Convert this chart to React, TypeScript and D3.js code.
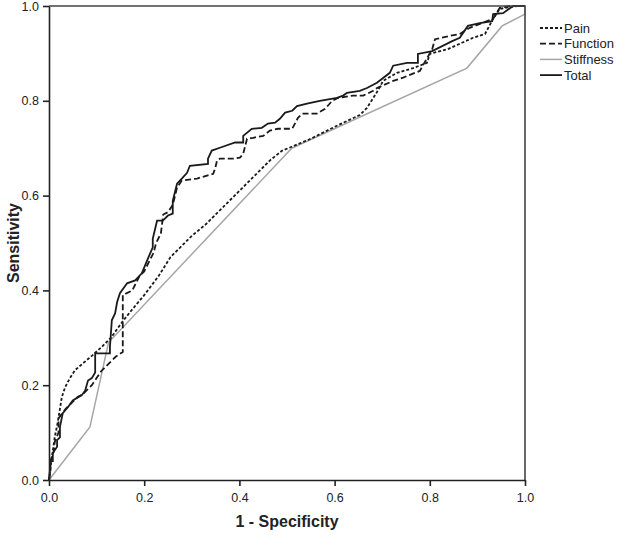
import React, { useEffect, useRef } from "react";
import * as d3 from "d3";

// ROC points: [1 - specificity, sensitivity]
const painPts: [number, number][] = [
  [0, 0], [0.005, 0.04], [0.012, 0.09], [0.018, 0.12], [0.023, 0.15], [0.027, 0.175],
  [0.034, 0.196], [0.044, 0.215], [0.055, 0.232], [0.07, 0.245], [0.09, 0.262],
  [0.11, 0.28], [0.13, 0.3], [0.155, 0.335], [0.175, 0.36], [0.2, 0.39], [0.23, 0.43],
  [0.255, 0.47], [0.28, 0.495], [0.3, 0.515], [0.33, 0.54], [0.36, 0.57], [0.39, 0.6],
  [0.42, 0.63], [0.44, 0.65], [0.465, 0.675], [0.49, 0.695], [0.51, 0.703], [0.55, 0.72],
  [0.6, 0.745], [0.653, 0.77], [0.668, 0.785], [0.69, 0.82], [0.702, 0.842], [0.731, 0.859],
  [0.765, 0.869], [0.794, 0.88], [0.8, 0.899], [0.838, 0.909], [0.891, 0.933],
  [0.916, 0.941], [0.933, 0.973], [0.947, 0.994], [0.983, 1.0], [1, 1],
];

const functionPts: [number, number][] = [
  [0, 0], [0.003, 0.02], [0.003, 0.04], [0.01, 0.06], [0.012, 0.08], [0.02, 0.1],
  [0.02, 0.13], [0.035, 0.15], [0.045, 0.16], [0.06, 0.175], [0.07, 0.18], [0.08, 0.19],
  [0.09, 0.2], [0.1, 0.215], [0.11, 0.23], [0.125, 0.245], [0.14, 0.26], [0.155, 0.27],
  [0.155, 0.39], [0.175, 0.4], [0.19, 0.43], [0.2, 0.44], [0.21, 0.46], [0.22, 0.48],
  [0.225, 0.5], [0.235, 0.52], [0.24, 0.56], [0.25, 0.565], [0.26, 0.58], [0.269, 0.617],
  [0.279, 0.632], [0.311, 0.636], [0.332, 0.642], [0.345, 0.646], [0.349, 0.657],
  [0.353, 0.674], [0.359, 0.678], [0.387, 0.678], [0.401, 0.68], [0.408, 0.688],
  [0.416, 0.72], [0.429, 0.722], [0.45, 0.726], [0.464, 0.737], [0.481, 0.741],
  [0.511, 0.741], [0.523, 0.764], [0.532, 0.773], [0.563, 0.773], [0.58, 0.783],
  [0.595, 0.8], [0.607, 0.806], [0.639, 0.811], [0.66, 0.811], [0.681, 0.821],
  [0.689, 0.827], [0.723, 0.842], [0.744, 0.849], [0.779, 0.863], [0.805, 0.909],
  [0.811, 0.93], [0.842, 0.937], [0.863, 0.941], [0.884, 0.954], [0.933, 0.973],
  [0.947, 0.996], [0.968, 1.0], [1, 1],
];

const stiffnessPts: [number, number][] = [
  [0, 0], [0.086, 0.112], [0.125, 0.29], [0.51, 0.7], [0.878, 0.869], [0.952, 0.958],
  [1, 0.983], [1, 1],
];

const totalPts: [number, number][] = [
  [0, 0], [0.002, 0.021], [0.002, 0.04], [0.008, 0.04], [0.008, 0.057], [0.017, 0.07],
  [0.017, 0.084], [0.023, 0.09], [0.023, 0.112], [0.029, 0.141], [0.04, 0.154],
  [0.05, 0.168], [0.069, 0.179], [0.076, 0.189], [0.082, 0.21], [0.09, 0.215],
  [0.097, 0.227], [0.097, 0.267], [0.128, 0.267], [0.128, 0.28], [0.132, 0.337],
  [0.139, 0.352], [0.143, 0.375], [0.149, 0.394], [0.164, 0.415], [0.181, 0.421],
  [0.195, 0.436], [0.206, 0.463], [0.218, 0.491], [0.218, 0.509], [0.227, 0.547],
  [0.239, 0.547], [0.25, 0.558], [0.26, 0.562], [0.26, 0.589], [0.269, 0.625],
  [0.279, 0.636], [0.29, 0.648], [0.296, 0.663], [0.334, 0.667], [0.334, 0.678],
  [0.342, 0.695], [0.359, 0.701], [0.391, 0.712], [0.408, 0.712], [0.408, 0.726],
  [0.426, 0.741], [0.447, 0.743], [0.46, 0.752], [0.475, 0.754], [0.485, 0.762],
  [0.496, 0.775], [0.511, 0.779], [0.521, 0.789], [0.542, 0.794], [0.569, 0.8],
  [0.605, 0.806], [0.618, 0.811], [0.626, 0.817], [0.653, 0.821], [0.668, 0.827],
  [0.689, 0.838], [0.716, 0.859], [0.723, 0.874], [0.752, 0.88], [0.775, 0.88],
  [0.775, 0.899], [0.805, 0.905], [0.847, 0.926], [0.863, 0.933], [0.88, 0.958],
  [0.905, 0.964], [0.931, 0.968], [0.933, 0.983], [0.954, 0.985], [0.975, 1.0], [1, 1],
];

const seriesNames = ["Pain", "Function", "Stiffness", "Total"];
const ticks = [0, 0.2, 0.4, 0.6, 0.8, 1.0];

const styles: Record<string, { color: string; width: number; dash: string | null }> = {
  Pain: { color: "#1a1a1a", width: 1.8, dash: "3,2" },
  Function: { color: "#1a1a1a", width: 1.8, dash: "6,3" },
  Stiffness: { color: "#a6a6a6", width: 1.5, dash: null },
  Total: { color: "#1a1a1a", width: 1.8, dash: null },
};

const App = () => {
  const svgRef = useRef<SVGSVGElement | null>(null);

  useEffect(() => {
    document.body.style.margin = "0";
    const width = 620;
    const height = 535;
    const left = 49, right = 525, top = 6, bottom = 480;
    const font = "'Liberation Sans', Arial, sans-serif";

    const x = d3.scaleLinear().domain([0, 1]).range([left, right]);
    const y = d3.scaleLinear().domain([0, 1]).range([bottom, top]);

    const svg = d3.select(svgRef.current).attr("width", width).attr("height", height);
    svg.selectAll("*").remove();
    svg.append("rect").attr("width", width).attr("height", height).attr("fill", "#fff");

    const data: Record<string, [number, number][]> = {
      Pain: painPts,
      Function: functionPts,
      Stiffness: stiffnessPts,
      Total: totalPts,
    };

    const line = d3.line<[number, number]>().x((d) => x(d[0])).y((d) => y(d[1]));

    // stiffness first so the black lines sit on top
    ["Stiffness", "Pain", "Function", "Total"].forEach((name) => {
      const st = styles[name];
      svg.append("path")
        .datum(data[name])
        .attr("d", line)
        .attr("fill", "none")
        .attr("stroke", st.color)
        .attr("stroke-width", st.width)
        .attr("stroke-dasharray", st.dash)
        .attr("stroke-linejoin", "miter");
    });

    // frame (top, right)
    svg.append("path")
      .attr("d", `M${left},${top}H${right}V${bottom}`)
      .attr("fill", "none")
      .attr("stroke", "#444")
      .attr("stroke-width", 1.6);

    const xAxis = svg.append("g")
      .attr("transform", `translate(0,${bottom})`)
      .call(d3.axisBottom(x).tickValues(ticks).tickFormat(d3.format(".1f")).tickSize(6).tickSizeOuter(0));
    const yAxis = svg.append("g")
      .attr("transform", `translate(${left},0)`)
      .call(d3.axisLeft(y).tickValues(ticks).tickFormat(d3.format(".1f")).tickSize(6).tickSizeOuter(0));

    [xAxis, yAxis].forEach((g) => {
      g.select(".domain").attr("stroke", "#222").attr("stroke-width", 1.6);
      g.selectAll(".tick line").attr("stroke", "#222").attr("stroke-width", 1.6);
      g.selectAll(".tick text")
        .attr("font-family", font)
        .attr("font-size", 12.5)
        .attr("fill", "#222");
    });
    xAxis.selectAll(".tick text").attr("dy", "1.05em");
    yAxis.selectAll(".tick text").attr("x", -10);

    svg.append("text")
      .attr("transform", `translate(19,${(top + bottom) / 2}) rotate(-90)`)
      .attr("text-anchor", "middle")
      .attr("font-family", font)
      .attr("font-weight", "bold")
      .attr("font-size", 16)
      .attr("fill", "#222")
      .text("Sensitivity");

    svg.append("text")
      .attr("x", (left + right) / 2)
      .attr("y", 527)
      .attr("text-anchor", "middle")
      .attr("font-family", font)
      .attr("font-weight", "bold")
      .attr("font-size", 16)
      .attr("fill", "#222")
      .text("1 - Specificity");

    // legend
    const legend = svg.append("g").attr("transform", "translate(540,28)");
    seriesNames.forEach((name, i) => {
      const st = styles[name];
      const row = legend.append("g").attr("transform", `translate(0,${i * 15.7})`);
      row.append("line")
        .attr("x1", 0).attr("x2", 22)
        .attr("stroke", st.color)
        .attr("stroke-width", st.width)
        .attr("stroke-dasharray", st.dash);
      row.append("text")
        .attr("x", 24)
        .attr("dy", "0.35em")
        .attr("font-family", font)
        .attr("font-size", 13)
        .attr("fill", "#222")
        .text(name);
    });
  }, []);

  return <svg ref={svgRef}></svg>;
};

export default App;
